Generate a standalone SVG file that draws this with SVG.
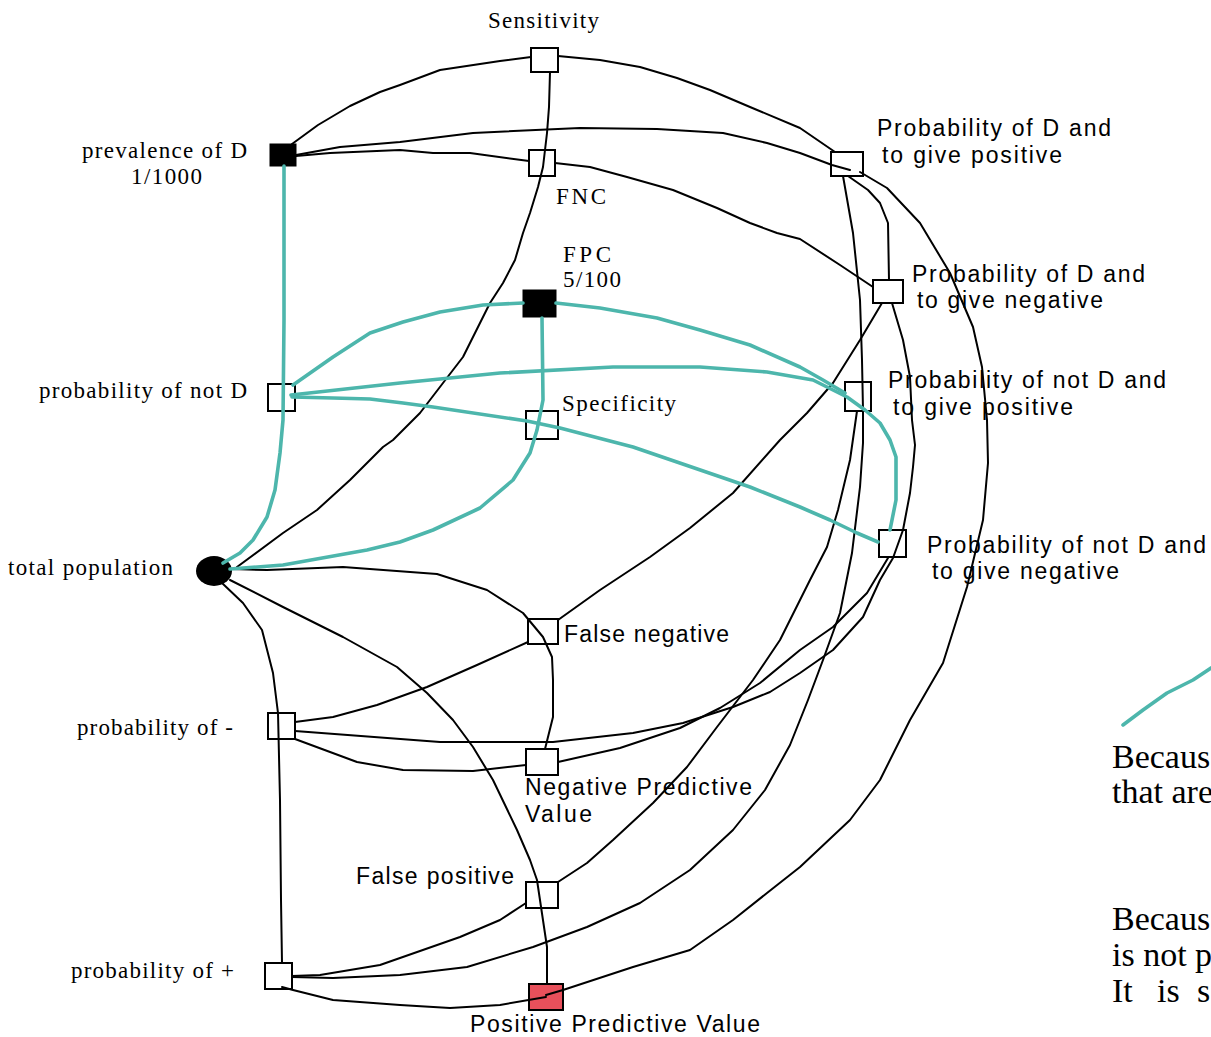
<svg xmlns="http://www.w3.org/2000/svg" width="1211" height="1037" viewBox="0 0 1211 1037">
<style>
.box{fill:#fff;stroke:#000;stroke-width:2}
.blk{fill:#000;stroke:#000;stroke-width:1}
.ser{font-family:"Liberation Serif","Times New Roman",serif;font-size:23px;fill:#000}
.san{font-family:"Liberation Sans",Arial,sans-serif;font-size:23px;fill:#000}
.big{font-family:"Liberation Serif","Times New Roman",serif;font-size:34px;fill:#000}
.e{fill:none;stroke:#000;stroke-width:2;stroke-linejoin:round;stroke-linecap:round}
.t{fill:none;stroke:#4db6ac;stroke-width:3.6;stroke-linejoin:round;stroke-linecap:round}
</style>
<rect width="1211" height="1037" fill="#fff"/>
<g id="nodes">
<g id="sensitivity"><rect class="box" x="531" y="48" width="27" height="24"/><text class="ser" x="488" y="28" textLength="111" lengthAdjust="spacing">Sensitivity</text></g>
<g id="prevalence"><rect class="blk" x="270" y="144" width="26" height="22"/><text class="ser" x="82" y="158" textLength="165" lengthAdjust="spacing">prevalence of D</text><text class="ser" x="131" y="184" textLength="71" lengthAdjust="spacing">1/1000</text></g>
<g id="fnc"><rect class="box" x="529" y="150" width="26" height="26"/><text class="ser" x="556" y="204" textLength="50" lengthAdjust="spacing">FNC</text></g>
<g id="fpc"><rect class="blk" x="523" y="290" width="33" height="27"/><text class="ser" x="563" y="262" textLength="48" lengthAdjust="spacing">FPC</text><text class="ser" x="563" y="287" textLength="58" lengthAdjust="spacing">5/100</text></g>
<g id="pDpos"><rect class="box" x="831" y="152" width="32" height="24"/><text class="san" x="877" y="136" textLength="234" lengthAdjust="spacing">Probability of D and</text><text class="san" x="882" y="163" textLength="180" lengthAdjust="spacing">to give positive</text></g>
<g id="pDneg"><rect class="box" x="873" y="280" width="30" height="23"/><text class="san" x="912" y="282" textLength="233" lengthAdjust="spacing">Probability of D and</text><text class="san" x="917" y="308" textLength="186" lengthAdjust="spacing">to give negative</text></g>
<g id="notD"><rect class="box" x="268" y="384" width="27" height="27"/><text class="ser" x="39" y="398" textLength="208" lengthAdjust="spacing">probability of not D</text></g>
<g id="specificity"><rect class="box" x="526" y="411" width="32" height="28"/><text class="ser" x="562" y="411" textLength="114" lengthAdjust="spacing">Specificity</text></g>
<g id="pNotDpos"><rect class="box" x="845" y="382" width="26" height="29"/><text class="san" x="888" y="388" textLength="278" lengthAdjust="spacing">Probability of not D and</text><text class="san" x="893" y="415" textLength="180" lengthAdjust="spacing">to give positive</text></g>
<g id="pNotDneg"><rect class="box" x="879" y="530" width="27" height="27"/><text class="san" x="927" y="553" textLength="279" lengthAdjust="spacing">Probability of not D and</text><text class="san" x="932" y="579" textLength="187" lengthAdjust="spacing">to give negative</text></g>
<g id="total"><ellipse cx="214" cy="571" rx="18" ry="15" fill="#000"/><text class="ser" x="8" y="575" textLength="165" lengthAdjust="spacing">total population</text></g>
<g id="falseNeg"><rect class="box" x="528" y="619" width="30" height="25"/><text class="san" x="564" y="642" textLength="165" lengthAdjust="spacing">False negative</text></g>
<g id="probMinus"><rect class="box" x="268" y="713" width="27" height="26"/><text class="ser" x="77" y="735" textLength="156" lengthAdjust="spacing">probability of -</text></g>
<g id="npv"><rect class="box" x="526" y="749" width="32" height="26"/><text class="san" x="525" y="795" textLength="227" lengthAdjust="spacing">Negative Predictive</text><text class="san" x="525" y="822" textLength="67" lengthAdjust="spacing">Value</text></g>
<g id="falsePos"><rect class="box" x="526" y="882" width="32" height="26"/><text class="san" x="356" y="884" textLength="158" lengthAdjust="spacing">False positive</text></g>
<g id="probPlus"><rect class="box" x="265" y="963" width="27" height="26"/><text class="ser" x="71" y="978" textLength="163" lengthAdjust="spacing">probability of +</text></g>
<g id="ppv"><rect x="529" y="984" width="34" height="26" fill="#e8505b" stroke="#000" stroke-width="2"/><text class="san" x="470" y="1032" textLength="290" lengthAdjust="spacing">Positive Predictive Value</text></g>
</g>
<g id="connectors">
<polyline class="e" points="292,144 318,125 350,106 380,92 400,85 440,70 500,61 531,57"/>
<polyline class="e" points="558,56 600,60 640,67 677,78 710,90 750,107 800,128 835,152"/>
<polyline class="e" points="550,72 549,107 547,133 543,167 538,187 530,213 523,233 515,260 503,283 490,303 463,357 443,383 420,413 393,440 383,447 350,480 317,510 283,533 237,567"/>
<polyline class="e" points="296,156 330,153 400,150 433,153 470,153 529,161"/>
<polyline class="e" points="296,155 340,147 400,142 473,133 580,128 657,129 723,133 767,143 800,153 832,165 850,170"/>
<polyline class="e" points="860,172 887,188 920,223 950,273 973,327 982,367 987,420 988,463 983,520 967,587 943,663 910,720 880,780 850,820 800,867 767,893 733,920 690,950 633,967 563,990 546,995"/>
<polyline class="e" points="848,176 868,190 880,203 888,223 889,280"/>
<polyline class="e" points="555,163 590,167 627,177 673,190 717,208 750,223 777,233 800,239 840,265 873,287"/>
<polyline class="e" points="882,303 860,340 833,383 807,413 780,440 733,493 690,528 650,557 600,590 558,620"/>
<polyline class="e" points="892,303 903,340 910,377 912,420 915,445 913,467 910,493 903,530 893,558 880,580 863,617 833,650 800,673 770,692 733,707 683,723 633,733 553,742 440,742 295,731"/>
<polyline class="e" points="888,558 867,593 833,627 800,650 760,683 720,708 680,728 620,748 558,762"/>
<polyline class="e" points="232,569 267,570 343,567 437,574 487,590 523,613 543,637 552,657 553,680 553,717 545,749"/>
<polyline class="e" points="230,580 283,607 343,637 397,667 427,693 453,720 473,747 493,780 517,830 530,860 537,880 547,947 547,984"/>
<polyline class="e" points="222,583 243,603 262,630 273,673 278,713 280,800 281,900 282,963"/>
<polyline class="e" points="295,722 333,717 377,705 427,687 477,665 528,642"/>
<polyline class="e" points="295,739 357,762 403,770 473,771 526,765"/>
<polyline class="e" points="526,903 500,920 460,937 400,958 380,965 320,975 292,976"/>
<polyline class="e" points="282,987 293,990 333,1000 400,1005 450,1008 500,1005 546,997"/>
<polyline class="e" points="843,176 853,233 860,300 862,360 863,410 863,443 860,487 852,553 840,613 823,660 808,700 790,745 765,790 733,830 690,870 640,903 587,927 533,947 467,967 400,975 333,978 292,977"/>
<polyline class="e" points="857,411 850,460 838,510 827,547 810,580 780,640 753,680 717,727 687,767 653,803 613,840 587,863 558,882"/>
<polyline class="t" points="284,166 284,320 283,420 280,453 275,490 267,517 253,540 240,553 223,563"/>
<polyline class="t" points="293,385 333,357 370,333 403,322 440,312 483,305 523,303"/>
<polyline class="t" points="556,303 600,308 657,318 700,330 750,345 800,367 823,380 845,393"/>
<polyline class="t" points="291,395 400,383 500,373 613,367 700,367 767,372 813,380 847,397 865,410 880,423 890,440 896,457 896,500 890,530"/>
<polyline class="t" points="292,397 333,398 370,399 403,403 433,407 527,421 560,428 633,447 750,487 800,507 830,520 857,533 878,542"/>
<polyline class="t" points="542,318 543,400 537,430 530,453 513,480 480,508 433,530 400,542 367,550 283,565 230,569"/>
<polyline class="t" points="1123,725 1143,710 1167,693 1193,680 1211,668"/>
</g>
<g id="notes">
<text class="big" x="1112" y="768">Becaus</text>
<text class="big" x="1112" y="803">that are</text>
<text class="big" x="1112" y="930">Becaus</text>
<text class="big" x="1112" y="966">is not p</text>
<text class="big" y="1002"><tspan x="1112">It</tspan><tspan x="1157">is</tspan><tspan x="1197">s</tspan></text>
</g>
</svg>
